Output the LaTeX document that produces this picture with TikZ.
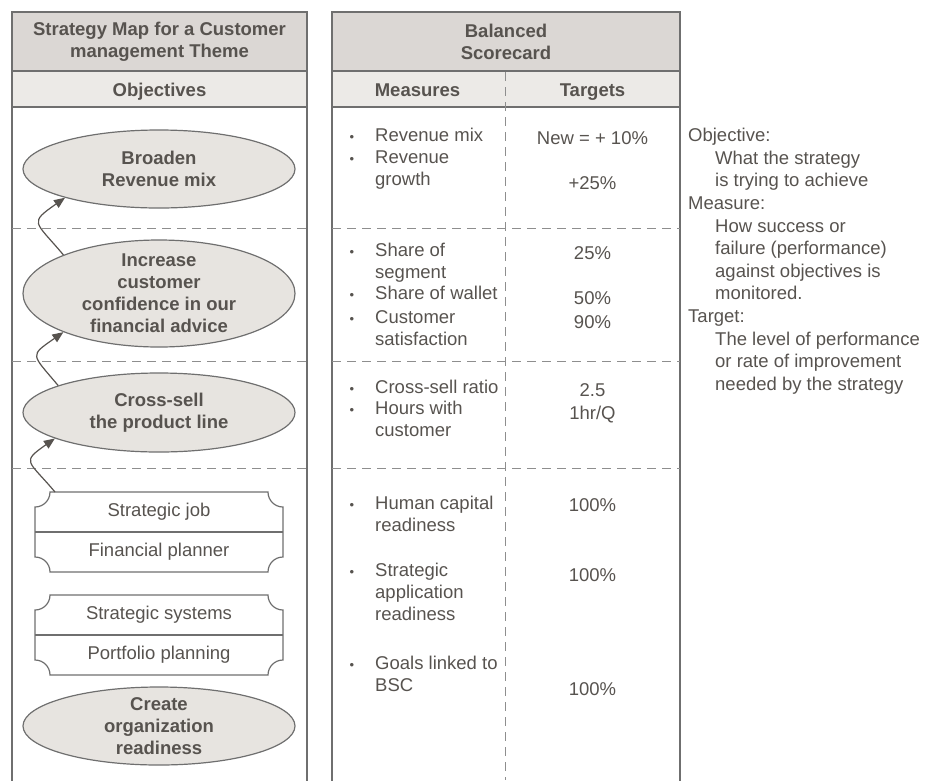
\documentclass[tikz,border=0pt]{standalone}
\usepackage{fontspec}
\setmainfont{Liberation Sans}
\usetikzlibrary{shapes.geometric,arrows.meta,positioning}

\definecolor{ink}{HTML}{57534F}
\definecolor{rule}{HTML}{6F6F6F}
\definecolor{dashgrey}{HTML}{8E8E8E}
\definecolor{hdrfill}{HTML}{DBD7D4}
\definecolor{subfill}{HTML}{ECEAE7}
\definecolor{ellfill}{HTML}{E7E4E0}

\newcommand{\bul}{\llap{{\fontsize{13}{13}\selectfont\textbullet}\hspace{21pt}}}
% outline of a plaque round two stacked cells
\newcommand{\plaque}[2]{%
  \draw[frame] ([xshift=15pt]#1.north west) -- ([xshift=-15pt]#1.north east)
    .. controls +(0,-8.3) and +(-8.3,0) .. ([yshift=-15pt]#1.north east)
    -- ([yshift=15pt]#2.south east)
    .. controls +(-8.3,0) and +(0,8.3) .. ([xshift=-15pt]#2.south east)
    -- ([xshift=15pt]#2.south west)
    .. controls +(0,8.3) and +(8.3,0) .. ([yshift=15pt]#2.south west)
    -- ([yshift=-15pt]#1.north west)
    .. controls +(8.3,0) and +(0,-8.3) .. cycle;
  \draw[frame] (#1.south west) -- (#1.south east);
}

\tikzset{
  hdr/.style={rectangle, draw=rule, fill=hdrfill, line width=1.2pt, inner sep=0pt, outer sep=0pt,
    font=\bfseries\fontsize{18.5}{22}\selectfont, text=ink, align=center},
  subhdr/.style={hdr, fill=subfill},
  colhd/.style={anchor=base, inner sep=0pt, font=\bfseries\fontsize{18.5}{22}\selectfont, text=ink},
  goal/.style={ellipse, draw=rule, fill=ellfill, line width=1.2pt, minimum width=272pt,
    inner xsep=0pt, inner ysep=-10pt, font=\bfseries\fontsize{18.5}{22}\selectfont, text=ink, align=center},
  cell/.style={minimum width=248pt, minimum height=40pt, inner sep=0pt, outer sep=0pt,
    font=\fontsize{18.5}{22}\selectfont, text=ink},
  meas/.style={anchor=base west, inner sep=0pt, font=\fontsize{18.5}{22}\selectfont, text=ink, align=left},
  targ/.style={anchor=base, inner sep=0pt, font=\fontsize{18.5}{22}\selectfont, text=ink},
  note/.style={anchor=north west, inner sep=0pt, font=\fontsize{18.5}{22.6}\selectfont, text=ink, align=left},
  frame/.style={draw=rule, line width=1.2pt},
  sep/.style={draw=dashgrey, line width=1pt, dash pattern=on 9pt off 6pt},
  link/.style={draw=ink, line width=1.2pt, -{Triangle[length=11pt,width=9pt]}}
}

\begin{document}
\begin{tikzpicture}[x=1pt, y=1pt]
\useasboundingbox (0,0) rectangle (929,-780);

% headers
\node[hdr, minimum width=295pt, minimum height=59pt] (smap) at (159.5,-41.5) {Strategy Map for a Customer\\management Theme};
\node[subhdr, minimum width=295pt, minimum height=36pt, below=0pt of smap] (obj) {};
\node[colhd] (objhd) at (159.5,-96) {Objectives};
\node[hdr, minimum width=348pt, minimum height=59pt] (bsc) at (506,-41.5) {Balanced\\Scorecard};
\node[subhdr, minimum width=348pt, minimum height=36pt, below=0pt of bsc] (mt) {};
\node[colhd] (meashd) at (417.5,-96) {Measures};
\node[colhd] (targhd) at (592.5,-96) {Targets};

% table bodies
\draw[frame] (obj.south west) -- ++(0,-675);
\draw[frame] (obj.south east) -- ++(0,-675);
\draw[frame] (mt.south west) -- ++(0,-675);
\draw[frame] (mt.south east) -- ++(0,-675);
\foreach \y in {228,361,468} {
  \draw[sep] (12,-\y) -- (307,-\y);
  \draw[sep] (332,-\y) -- (680,-\y);
}
\draw[sep] (505,-72) -- (505,-780);

% objectives
\node[goal, minimum height=78pt] (rev) at (159,-169) {Broaden\\Revenue mix};
\node[goal, minimum height=107pt] (conf) at (159,-293.5) {Increase\\customer\\confidence in our\\financial advice};
\node[goal, minimum height=79pt] (xsell) at (159,-412.5) {Cross-sell\\the product line};
\node[cell] (job) at (159,-512) {Strategic job};
\node[cell, below=0pt of job] (plan) {Financial planner};
\node[cell] (sys) at (159,-615) {Strategic systems};
\node[cell, below=0pt of sys] (port) {Portfolio planning};
\node[goal, minimum height=78pt] (ready) at (159,-726) {Create\\organization\\readiness};
\plaque{job}{plan}
\plaque{sys}{port}

\draw[link] (conf.158) to[out=130, in=215, looseness=2] (rev.197);
\draw[link] (xsell.165) to[out=130, in=215, looseness=2] (conf.202);
\draw[link] ([xshift=20pt]job.north west) to[out=130, in=215, looseness=2] (xsell.194);

% measures (base = last line)
\node[meas] (m1) at (375,-141.5) {\bul Revenue mix};
\node[meas] (m2) at (375,-185.5) {\bul Revenue\\growth};
\node[meas] (m3) at (375,-278.5) {\bul Share of\\segment};
\node[meas] (m4) at (375,-299.5) {\bul Share of wallet};
\node[meas] (m5) at (375,-345.5) {\bul Customer\\satisfaction};
\node[meas] (m6) at (375,-393.5) {\bul Cross-sell ratio};
\node[meas] (m7) at (375,-436.5) {\bul Hours with\\customer};
\node[meas] (m8) at (375,-531.5) {\bul Human capital\\readiness};
\node[meas] (m9) at (375,-620.5) {\bul Strategic\\application\\readiness};
\node[meas] (m10) at (375,-691.5) {\bul Goals linked to\\BSC};

% targets
\node[targ] (t1) at (592.5,-144.5) {New = + 10\%};
\node[targ] (t2) at (592.5,-189.5) {+25\%};
\node[targ] (t3) at (592.5,-259.5) {25\%};
\node[targ] (t4) at (592.5,-304.5) {50\%};
\node[targ] (t5) at (592.5,-328.5) {90\%};
\node[targ] (t6) at (592.5,-396.5) {2.5};
\node[targ] (t7) at (592.5,-419.5) {1hr/Q};
\node[targ] (t8) at (592.5,-511.5) {100\%};
\node[targ] (t9) at (592.5,-581.5) {100\%};
\node[targ] (t10) at (592.5,-695.5) {100\%};

% legend
\node[note] (legend) at (688,-128) {Objective:\\
  \hspace*{27pt}What the strategy\\
  \hspace*{27pt}is trying to achieve\\
  Measure:\\
  \hspace*{27pt}How success or\\
  \hspace*{27pt}failure (performance)\\
  \hspace*{27pt}against objectives is\\
  \hspace*{27pt}monitored.\\
  Target:\\
  \hspace*{27pt}The level of performance\\
  \hspace*{27pt}or rate of improvement\\
  \hspace*{27pt}needed by the strategy};
\end{tikzpicture}
\end{document}
